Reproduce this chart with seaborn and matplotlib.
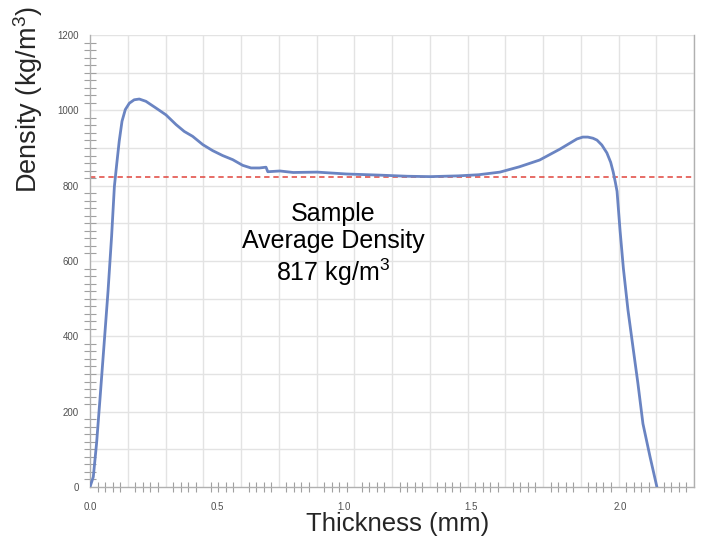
import numpy as np
import pandas as pd
import matplotlib
matplotlib.use("Agg")
import matplotlib.pyplot as plt
import seaborn as sns

# density profile (thickness in mm, density in kg/m3)
thickness = [0.0, 0.013, 0.026, 0.039, 0.055, 0.071, 0.085, 0.096, 0.105, 0.115,
             0.126, 0.139, 0.155, 0.174, 0.194, 0.220, 0.260, 0.299, 0.339, 0.371,
             0.404, 0.444, 0.483, 0.522, 0.562, 0.601, 0.634, 0.667, 0.693, 0.70,
             0.748, 0.80, 0.894, 1.01, 1.14, 1.25, 1.34, 1.45, 1.53, 1.614,
             1.69, 1.77, 1.85, 1.917, 1.94, 1.96, 1.98, 1.996, 2.015, 2.035,
             2.05, 2.06, 2.068, 2.075, 2.087, 2.10, 2.118, 2.138, 2.157, 2.177,
             2.205, 2.232]
density = [0, 27, 117, 231, 375, 520, 665, 798, 856, 918,
           971, 1002, 1019, 1028, 1030, 1024, 1006, 988, 962, 944,
           931, 909, 893, 880, 869, 854, 847, 847, 849, 837,
           839, 835, 836, 831, 828, 825, 824, 826, 829, 836,
           850, 868, 897, 924, 929, 929, 926, 921, 908, 887,
           862, 836, 810, 785, 680, 580, 470, 370, 276, 168,
           80, 0]
avg_density = 822

x_max = 2.378
y_max = 1200
y_ticks = [0, 200, 400, 600, 800, 1000, 1200]
x_tick_pos = [0.0, 0.5, 1.0, 1.5, 2.087]
x_tick_labels = ["0.0", "0.5", "1.0", "1.5", "2.0"]

df = pd.DataFrame({"Thickness": thickness, "Density": density})

sns.set_style("white")
plt.rcParams['font.family'] = ['Liberation Sans', 'DejaVu Sans']
plt.rcParams['mathtext.fontset'] = 'custom'
plt.rcParams['mathtext.rm'] = 'Liberation Sans'

fig = plt.figure(figsize=(7.01, 5.43), dpi=100)
ax = fig.add_axes([90 / 701, 56 / 543, 604 / 701, 452 / 543])

sns.lineplot(data=df, x="Thickness", y="Density", ax=ax, color="#6a84c2",
             linewidth=2.0, estimator=None, sort=False, zorder=3,
             solid_joinstyle="round", solid_capstyle="round")
ax.axhline(avg_density, color="#e0443c", linewidth=1.1, linestyle=(0, (3.5, 2.5)), zorder=2)

ax.set_xlim(0, x_max)
ax.set_ylim(0, y_max)

# grid lines (every 100 in y, 16 divisions in x)
x_grid = np.linspace(0, x_max, 17)
for gx in x_grid[1:]:
    ax.axvline(gx, color="#e3e3e3", linewidth=1.0, zorder=0)
for gy in range(100, y_max + 1, 100):
    ax.axhline(gy, color="#e3e3e3", linewidth=1.0, zorder=0)

# x minor ticks: four between each pair of grid lines
x_minor = [v for i, v in enumerate(np.linspace(0, x_max, 81)) if i % 5 != 0]

ax.set_xticks(x_tick_pos)
ax.set_xticklabels(x_tick_labels)
ax.set_yticks(y_ticks)
ax.set_xticks(x_minor, minor=True)
ax.set_yticks(np.arange(0, y_max + 1, 20), minor=True)
ax.tick_params(axis="both", which="both", bottom=True, left=True)
ax.tick_params(axis="both", which="major", length=0, labelsize=7, labelcolor="#505050")
ax.tick_params(axis="x", which="major", pad=11)
ax.tick_params(axis="y", which="major", pad=8)
ax.tick_params(axis="x", which="minor", direction="inout", length=7, width=0.8, color="#a0a0a0")
ax.tick_params(axis="y", which="minor", direction="inout", length=8, width=0.8, color="#a0a0a0")

for side in ["left", "bottom", "right"]:
    ax.spines[side].set_color("#b0b0b0")
    ax.spines[side].set_linewidth(1.0)
ax.spines["top"].set_visible(False)
ax.set_xlabel('')
ax.set_ylabel('')

ax.text(0.957, 642, "Sample\nAverage Density\n817 kg/m$^3$", ha="center", va="center",
        fontsize=18, linespacing=1.15, color="black")

fig.text(398 / 701, 19 / 543, "Thickness (mm)", ha="center", va="center", fontsize=18.5)
fig.text(28 / 701, 443 / 543, "Density (kg/m$^3$)", ha="center", va="center",
         rotation="vertical", fontsize=19.5)

plt.savefig("out.png", dpi=100, facecolor="w")
